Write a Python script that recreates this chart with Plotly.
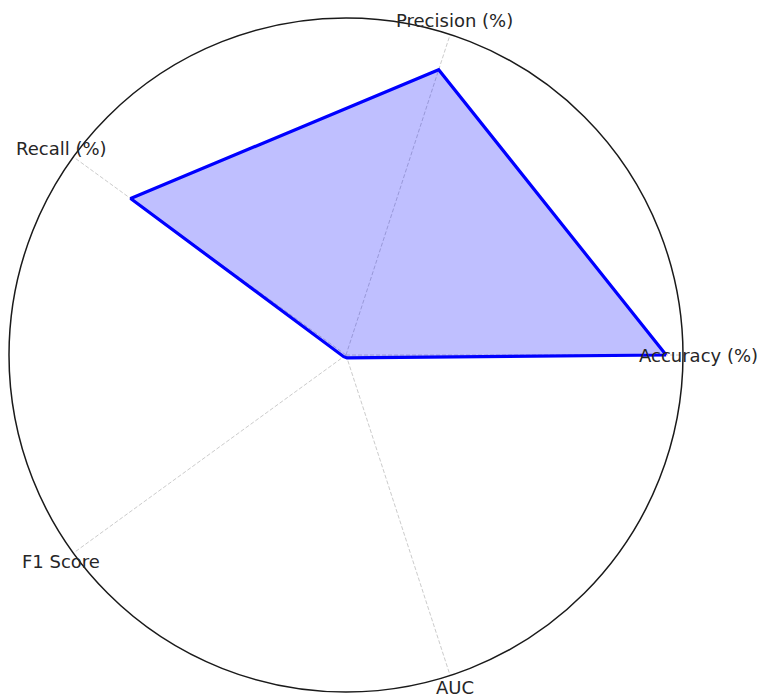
import math
import plotly.graph_objects as go

categories = ["Accuracy (%)", "Precision (%)", "Recall (%)", "F1 Score", "AUC"]
values = [95, 89, 79, 0.84, 0.9]

W, H = 757, 697
L, R, T, B = 9, 74, 18, 5

fig = go.Figure()
fig.add_trace(go.Scatterpolar(
    r=values + [values[0]],
    theta=categories + [categories[0]],
    mode="lines",
    fill="toself",
    fillcolor="rgba(0,0,255,0.25)",
    line=dict(color="#0000ff", width=3.2),
    hoverinfo="skip",
    showlegend=False,
))

annotations = []
n = len(categories)
for i, c in enumerate(categories):
    ang = 2 * math.pi * i / n
    annotations.append(dict(
        x=0.5 + 0.5 * 1.045 * math.cos(ang),
        y=0.5 + 0.5 * 1.045 * math.sin(ang),
        xref="paper", yref="paper",
        text=c, showarrow=False,
        xanchor="center", yanchor="middle",
        yshift=2 if math.sin(ang) < -0.9 else 0,
        font=dict(family="DejaVu Sans", size=18, color="#262626"),
    ))

fig.update_layout(
    width=W, height=H,
    margin=dict(l=L, r=R, t=T, b=B),
    paper_bgcolor="white",
    plot_bgcolor="white",
    annotations=annotations,
    polar=dict(
        bgcolor="white",
        domain=dict(x=[0, 1], y=[0, 1]),
        radialaxis=dict(visible=True, range=[0, 100], showgrid=False,
                        showticklabels=False, ticks="", showline=False),
        angularaxis=dict(
            direction="counterclockwise", rotation=0,
            showgrid=True, gridcolor="#cccccc", griddash="4px,2px", gridwidth=1,
            showticklabels=False, ticks="",
            showline=True, linecolor="#1a1a1a", linewidth=1.5,
        ),
    ),
)

fig.write_html("out.html", config={"displayModeBar": False},
               post_script="document.body.style.margin='0px';")
